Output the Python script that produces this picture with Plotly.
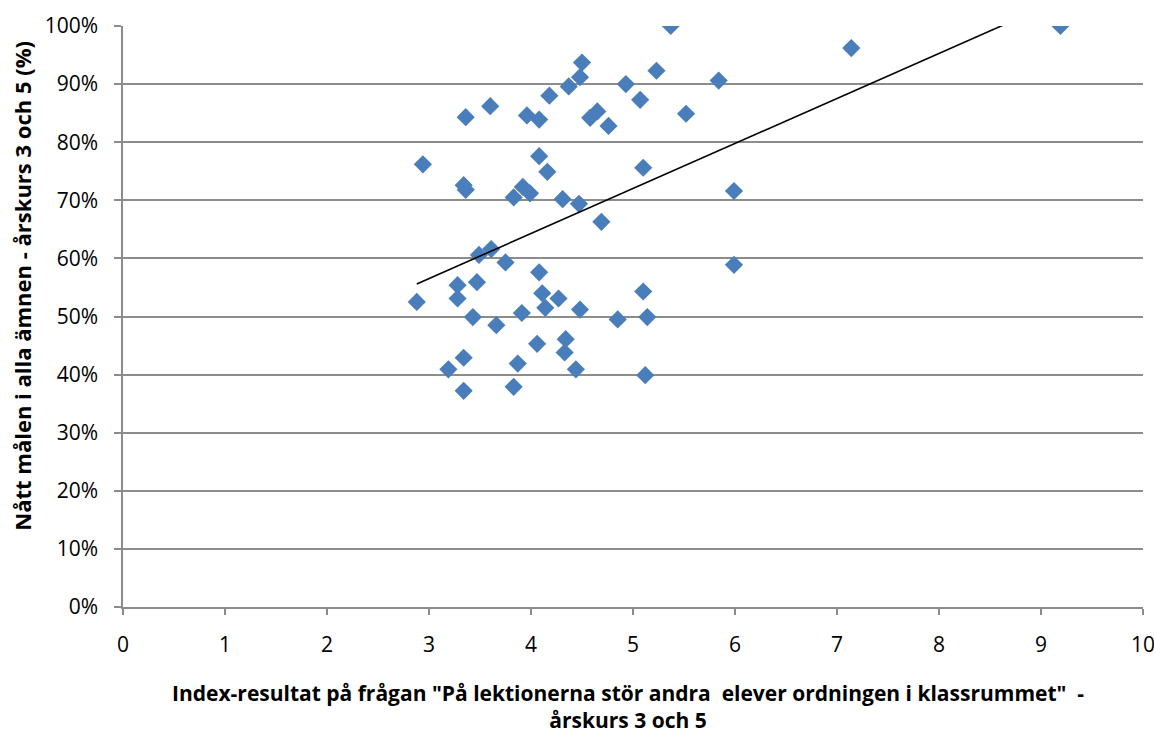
import plotly.graph_objects as go

# Index result (x) and share reaching goals (y, fraction)
index_vals = [
    5.37, 4.50, 4.48, 4.37, 5.23, 5.84, 4.93, 5.07, 4.18, 3.60,
    3.36, 3.96, 4.08, 4.65, 4.58, 4.76, 5.52, 2.94, 4.08, 4.16,
    5.10, 3.34, 3.36, 3.83, 3.92, 3.99, 4.31, 4.47, 4.69, 5.99,
    3.49, 3.61, 3.75, 5.99, 4.08, 3.28, 3.47, 2.88, 3.28, 4.11,
    4.27, 5.10, 4.14, 4.48, 3.43, 3.91, 3.66, 4.85, 5.14, 4.06,
    4.34, 4.33, 3.34, 3.19, 3.87, 4.44, 5.12, 3.34, 3.83, 7.14,
    9.19,
]
goal_share = [
    1.000, 0.937, 0.912, 0.896, 0.923, 0.906, 0.900, 0.873, 0.880, 0.862,
    0.843, 0.846, 0.839, 0.853, 0.842, 0.828, 0.849, 0.762, 0.776, 0.749,
    0.756, 0.726, 0.718, 0.705, 0.723, 0.712, 0.702, 0.694, 0.663, 0.716,
    0.606, 0.616, 0.593, 0.589, 0.576, 0.554, 0.559, 0.525, 0.531, 0.540,
    0.531, 0.543, 0.515, 0.512, 0.499, 0.506, 0.485, 0.495, 0.499, 0.453,
    0.461, 0.438, 0.429, 0.409, 0.419, 0.409, 0.399, 0.372, 0.379, 0.962,
    1.000,
]

# Linear trendline endpoints
trend_x = [2.88, 9.19]
trend_y = [0.556, 1.045]

x_ticks = [0, 1, 2, 3, 4, 5, 6, 7, 8, 9, 10]
y_ticks = [0, 0.1, 0.2, 0.3, 0.4, 0.5, 0.6, 0.7, 0.8, 0.9, 1.0]
y_tick_labels = ["0%", "10%", "20%", "30%", "40%", "50%", "60%", "70%", "80%", "90%", "100%"]

x_title = ('Index-resultat på frågan "På lektionerna stör andra  elever ordningen i klassrummet"  -'
           '<br>årskurs 3 och 5')
y_title = 'Nått målen i alla ämnen - årskurs 3 och 5 (%)'

FONT = "Open Sans"
GRID = "#8c8c8c"

fig = go.Figure()
fig.add_trace(go.Scatter(
    x=index_vals, y=goal_share, mode="markers",
    marker=dict(symbol="diamond", size=14, color="#4a7ebb",
                line=dict(width=0)),
    showlegend=False, hoverinfo="x+y",
))
fig.add_trace(go.Scatter(
    x=trend_x, y=trend_y, mode="lines",
    line=dict(color="black", width=1.6),
    showlegend=False, hoverinfo="skip",
))

fig.update_layout(
    width=1154, height=731,
    margin=dict(l=123, r=11, t=26, b=124),
    paper_bgcolor="white", plot_bgcolor="white",
    font=dict(family=FONT, size=21, color="black"),
    xaxis=dict(
        range=[0, 10], tickvals=x_ticks, ticktext=[str(v) for v in x_ticks],
        showgrid=False, zeroline=False,
        showline=True, linecolor=GRID, linewidth=1.5,
        ticks="outside", ticklen=6, tickcolor=GRID, tickwidth=1.5,
        tickfont=dict(family=FONT, size=21, color="black"),
        ticklabelstandoff=12, ticklabeloverflow="allow",
        automargin=False, fixedrange=True,
    ),
    yaxis=dict(
        range=[0, 1], tickvals=y_ticks, ticktext=y_tick_labels,
        showgrid=True, gridcolor=GRID, gridwidth=1.5, zeroline=False,
        showline=True, linecolor=GRID, linewidth=1.5,
        ticks="outside", ticklen=7, tickcolor=GRID, tickwidth=1.5,
        tickfont=dict(family=FONT, size=21, color="black"),
        ticklabelstandoff=12, ticklabeloverflow="allow",
        automargin=False, fixedrange=True,
    ),
    annotations=[
        dict(text=f"<b>{x_title}</b>", xref="paper", yref="paper",
             x=0.495, y=0, xanchor="center", yanchor="middle", yshift=-99,
             showarrow=False, align="center",
             font=dict(family=FONT, size=21, color="black")),
        dict(text=f"<b>{y_title}</b>", xref="paper", yref="paper",
             x=0, y=0.553, xanchor="center", yanchor="middle", xshift=-101,
             textangle=-90, showarrow=False,
             font=dict(family=FONT, size=22, color="black")),
    ],
)

# remove the default page margin so the figure fills the window exactly
fig.write_html(
    "out.html",
    config={"displayModeBar": False},
    post_script="document.body.style.margin='0px';document.body.style.overflow='hidden';",
)
